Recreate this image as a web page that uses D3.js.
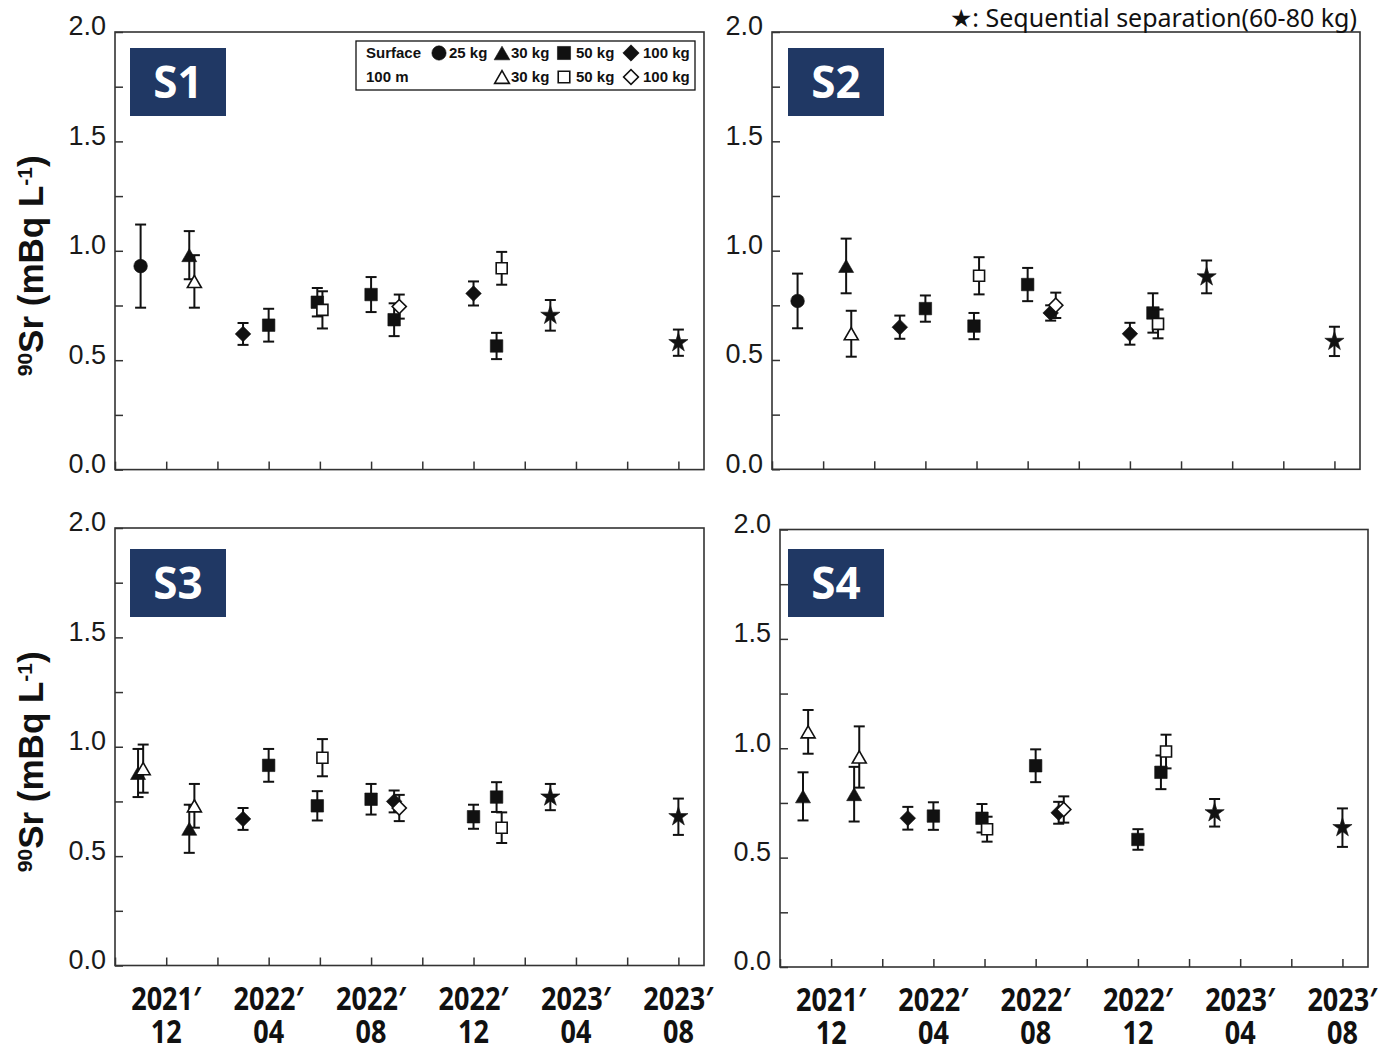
<!DOCTYPE html>
<html>
<head>
<meta charset="utf-8">
<script src="https://cdn.jsdelivr.net/npm/d3@7"></script>
<style>
  body { margin: 0; background: #fff; }
</style>
</head>
<body>
<svg id="chart" width="1378" height="1046"></svg>
<script>
"use strict";

/* axis values */
const yTickValues = [0, 0.5, 1.0, 1.5, 2.0];
const yAllTicks = [0, 0.25, 0.5, 0.75, 1.0, 1.25, 1.5, 1.75, 2.0];
const xTickMonths = [-2, 0, 2, 4, 6, 8, 10, 12, 14, 16, 18, 20];   // months since 2021-12
const xLabelMonths = [0, 4, 8, 12, 16, 20];
const xLabelYears = ["2021\u2032", "2022\u2032", "2022\u2032", "2022\u2032", "2023\u2032", "2023\u2032"];
const xLabelMon = ["12", "04", "08", "12", "04", "08"];

/* legend entries */
const legendRow1 = [["circle", "25 kg"], ["tri", "30 kg"], ["sq", "50 kg"], ["dia", "100 kg"]];
const legendRow2 = [["triO", "30 kg"], ["sqO", "50 kg"], ["diaO", "100 kg"]];

/* [month, marker, 90Sr mBq/L, error]  -- O = 100 m (open), else surface */
const s1 = [
  [-1.0, "circle", 0.93, 0.19],
  [0.9, "tri", 0.98, 0.11],
  [1.1, "triO", 0.86, 0.12],
  [3.0, "dia", 0.62, 0.05],
  [4.0, "sq", 0.66, 0.075],
  [5.9, "sq", 0.765, 0.065],
  [6.1, "sqO", 0.73, 0.085],
  [8.0, "sq", 0.80, 0.08],
  [8.9, "sq", 0.685, 0.075],
  [9.1, "diaO", 0.745, 0.055],
  [12.0, "dia", 0.805, 0.055],
  [12.9, "sq", 0.565, 0.06],
  [13.1, "sqO", 0.92, 0.075],
  [15.0, "star", 0.705, 0.07],
  [20.0, "star", 0.58, 0.06]
];
const s2 = [
  [-1.0, "circle", 0.77, 0.125],
  [0.9, "tri", 0.93, 0.125],
  [1.1, "triO", 0.62, 0.105],
  [3.0, "dia", 0.65, 0.053],
  [4.0, "sq", 0.735, 0.06],
  [5.9, "sq", 0.655, 0.06],
  [6.1, "sqO", 0.885, 0.085],
  [8.0, "sq", 0.845, 0.076],
  [8.9, "dia", 0.715, 0.035],
  [9.1, "diaO", 0.75, 0.058],
  [12.0, "dia", 0.62, 0.05],
  [12.9, "sq", 0.715, 0.09],
  [13.1, "sqO", 0.665, 0.066],
  [15.0, "star", 0.88, 0.075],
  [20.0, "star", 0.585, 0.067]
];
const s3 = [
  [-1.1, "tri", 0.88, 0.11],
  [-0.9, "triO", 0.90, 0.11],
  [0.9, "tri", 0.625, 0.11],
  [1.1, "triO", 0.73, 0.10],
  [3.0, "dia", 0.67, 0.05],
  [4.0, "sq", 0.915, 0.075],
  [5.9, "sq", 0.73, 0.067],
  [6.1, "sqO", 0.95, 0.085],
  [8.0, "sq", 0.76, 0.07],
  [8.9, "dia", 0.75, 0.05],
  [9.1, "diaO", 0.72, 0.06],
  [12.0, "sq", 0.68, 0.055],
  [12.9, "sq", 0.77, 0.068],
  [13.1, "sqO", 0.63, 0.07],
  [15.0, "star", 0.77, 0.06],
  [20.0, "star", 0.68, 0.083]
];
const s4 = [
  [-1.1, "tri", 0.78, 0.11],
  [-0.9, "triO", 1.075, 0.10],
  [0.9, "tri", 0.79, 0.125],
  [1.1, "triO", 0.96, 0.14],
  [3.0, "dia", 0.68, 0.052],
  [4.0, "sq", 0.69, 0.063],
  [5.9, "sq", 0.68, 0.065],
  [6.1, "sqO", 0.63, 0.057],
  [8.0, "sq", 0.92, 0.075],
  [8.9, "dia", 0.705, 0.05],
  [9.1, "diaO", 0.72, 0.06],
  [12.0, "sq", 0.583, 0.047],
  [12.9, "sq", 0.89, 0.077],
  [13.1, "sqO", 0.985, 0.077],
  [15.0, "star", 0.705, 0.063],
  [20.0, "star", 0.637, 0.088]
];

/* panel placement */
const panels = [
  { name: "S1", rows: s1, left: 115, right: 704, top: 32, bottom: 469.6, boxX: 130, boxY: 48, xText: false, yTitle: true, legend: true },
  { name: "S2", rows: s2, left: 772, right: 1360, top: 32, bottom: 469.3, boxX: 788, boxY: 48, xText: false },
  { name: "S3", rows: s3, left: 115, right: 704, top: 528, bottom: 965.5, boxX: 130, boxY: 549, xText: true, yTitle: true },
  { name: "S4", rows: s4, left: 780, right: 1368, top: 529.5, bottom: 967, boxX: 788, boxY: 549, xText: true }
];

const svg = d3.select("#chart");
const INK = "#111";

/* triangle with its bounding box centred on the point */
const triangleBox = {
  draw(ctx, size) {
    const s = Math.sqrt(size), h = s * 0.866;
    ctx.moveTo(0, -h / 2);
    ctx.lineTo(s / 2, h / 2);
    ctx.lineTo(-s / 2, h / 2);
    ctx.closePath();
  }
};

function drawMarker(g, kind, cx, cy, k) {
  k = k || 1;
  const open = kind.endsWith("O");
  const base = open ? kind.slice(0, -1) : kind;
  let type, size, rot = 0;
  if (base === "circle") { type = d3.symbolCircle; size = 145; }
  else if (base === "tri") { type = triangleBox; size = open ? 196 : 225; }
  else if (base === "sq") { type = d3.symbolSquare; size = open ? 121 : 156; }
  else if (base === "dia") { type = d3.symbolSquare; size = open ? 100 : 121; rot = 45; }
  else { type = d3.symbolStar; size = 115; }
  g.append("path")
      .attr("d", d3.symbol().type(type).size(size * k * k)())
      .attr("transform", "translate(" + cx + "," + cy + ") rotate(" + rot + ")")
      .attr("fill", open ? "#fff" : INK)
      .attr("stroke", INK)
      .attr("stroke-width", open ? 1.6 : 0.6)
      .attr("stroke-linejoin", "miter");
}

panels.forEach(function(p) {
  const x = d3.scaleLinear().domain([-2, 21]).range([p.left, p.right]);
  const y = d3.scaleLinear().domain([0, 2]).range([p.bottom, p.top]);
  const g = svg.append("g").attr("class", "panel-" + p.name);

  /* y axis, inward ticks */
  const yAxis = g.append("g")
      .attr("transform", "translate(" + p.left + ",0)")
      .call(d3.axisLeft(y).tickValues(yAllTicks).tickSize(-8).tickPadding(9)
        .tickFormat(function(d) { return yTickValues.indexOf(d) >= 0 ? d.toFixed(1) : ""; }));
  yAxis.select(".domain").remove();
  yAxis.selectAll("line").attr("stroke", "#333").attr("stroke-width", 1.5);
  yAxis.selectAll("text")
      .attr("dy", "0.22em")
      .attr("y", -3)
      .style("font-family", "'Liberation Sans', Arial, sans-serif")
      .style("font-size", "27px")
      .attr("fill", "#1a1a1a");

  /* x axis, inward ticks */
  const xAxis = g.append("g")
      .attr("transform", "translate(0," + p.bottom + ")")
      .call(d3.axisBottom(x).tickValues(xTickMonths).tickSize(-8).tickFormat(""));
  xAxis.select(".domain").remove();
  xAxis.selectAll("line").attr("stroke", "#333").attr("stroke-width", 1.5);

  /* frame */
  g.append("rect")
      .attr("x", p.left).attr("y", p.top)
      .attr("width", p.right - p.left).attr("height", p.bottom - p.top)
      .attr("fill", "none").attr("stroke", "#333").attr("stroke-width", 1.6);

  if (p.xText) {
    /* two-line date labels in a condensed bold face */
    const lab = g.append("g").selectAll("text")
        .data(xLabelMonths)
        .enter().append("text")
        .attr("transform", function(d) {
          return "translate(" + x(d) + "," + (p.bottom + 44) + ") scale(0.82,1)";
        })
        .attr("text-anchor", "middle")
        .style("font-family", "'Noto Sans', 'Open Sans', sans-serif")
        .style("font-weight", "bold")
        .style("font-size", "33px")
        .attr("fill", INK);
    lab.append("tspan").attr("x", 0).attr("y", 0)
        .text(function(d, i) { return xLabelYears[i]; });
    lab.append("tspan").attr("x", 0).attr("y", 33)
        .text(function(d, i) { return xLabelMon[i]; });
  }

  if (p.yTitle) {
    const cy = (p.top + p.bottom) / 2 + 15;
    const t = g.append("text")
        .attr("transform", "translate(43," + cy + ") rotate(-90)")
        .attr("text-anchor", "middle")
        .style("font-family", "'Liberation Sans', Arial, sans-serif")
        .style("font-weight", "bold")
        .style("font-size", "35px")
        .attr("fill", INK);
    t.append("tspan").attr("baseline-shift", "super").style("font-size", "21px").text("90");
    t.append("tspan").text("Sr (mBq L");
    t.append("tspan").attr("baseline-shift", "super").style("font-size", "21px").text("-1");
    t.append("tspan").text(")");
  }

  /* station tag */
  g.append("rect")
      .attr("x", p.boxX).attr("y", p.boxY)
      .attr("width", 96).attr("height", 68)
      .attr("fill", "#203864");
  g.append("text")
      .attr("x", p.boxX + 48).attr("y", p.boxY + 50)
      .attr("text-anchor", "middle")
      .style("font-family", "'Noto Sans', 'Open Sans', sans-serif")
      .style("font-weight", "bold")
      .style("font-size", "44px")
      .attr("fill", "#fff")
      .text(p.name);

  /* error bars and markers */
  p.rows.forEach(function(r) {
    const cx = x(r[0]);
    const bar = g.append("g").attr("stroke", INK).attr("stroke-width", 2);
    const yt = y(r[2] + r[3]), yb = y(r[2] - r[3]);
    bar.append("line").attr("x1", cx).attr("x2", cx).attr("y1", yt).attr("y2", yb);
    bar.append("line").attr("x1", cx - 5.5).attr("x2", cx + 5.5).attr("y1", yt).attr("y2", yt);
    bar.append("line").attr("x1", cx - 5.5).attr("x2", cx + 5.5).attr("y1", yb).attr("y2", yb);
    drawMarker(g, r[1], cx, y(r[2]));
  });

  if (p.legend) {
    const lg = g.append("g");
    lg.append("rect")
        .attr("x", 356).attr("y", 41).attr("width", 339).attr("height", 49)
        .attr("fill", "#fff").attr("stroke", INK).attr("stroke-width", 1.3);
    const font = function(sel) {
      sel.style("font-family", "'Liberation Sans', Arial, sans-serif")
         .style("font-weight", "bold").style("font-size", "15px").attr("fill", INK);
    };
    lg.append("text").attr("x", 366).attr("y", 58).text("Surface").call(font);
    lg.append("text").attr("x", 366).attr("y", 82).text("100 m").call(font);
    const symX = { circle: 439, tri: 502, sq: 564, dia: 631 };
    const txtX = { circle: 449, tri: 511, sq: 576, dia: 643 };
    legendRow1.forEach(function(e) {
      drawMarker(lg, e[0], symX[e[0]], 53, 1.05);
      lg.append("text").attr("x", txtX[e[0]]).attr("y", 58).text(e[1]).call(font);
    });
    legendRow2.forEach(function(e) {
      const b = e[0].slice(0, -1);
      drawMarker(lg, e[0], symX[b], 77, 1.05);
      lg.append("text").attr("x", txtX[b]).attr("y", 82).text(e[1]).call(font);
    });
  }
});

/* note for the star marker */
svg.append("text")
    .attr("x", 1357).attr("y", 27)
    .attr("text-anchor", "end")
    .style("font-family", "'Noto Sans', 'DejaVu Sans', sans-serif")
    .style("font-size", "25px")
    .attr("fill", INK)
    .text("\u2605: Sequential separation(60-80 kg)");
</script>
</body>
</html>
